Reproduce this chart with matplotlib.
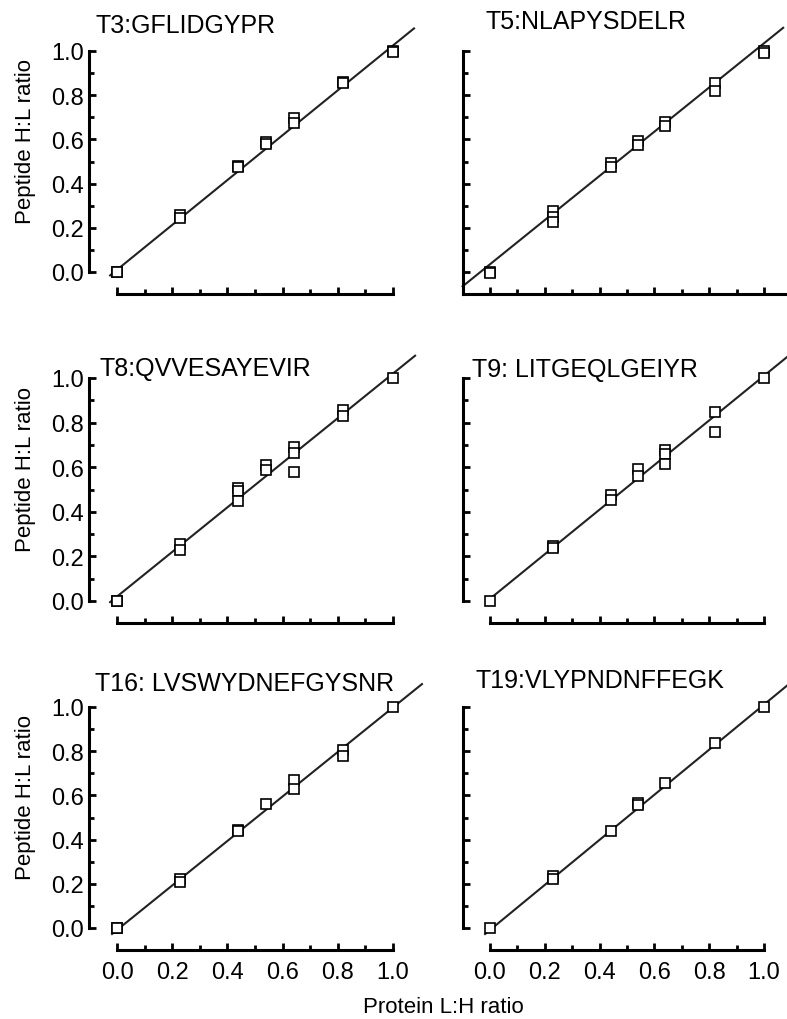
import matplotlib.pyplot as plt
from matplotlib.ticker import FormatStrFormatter

plt.rcParams['font.family'] = ['Liberation Sans', 'DejaVu Sans']

# Protein L:H mixing ratios and the measured peptide H:L ratios per peptide.
titles = ['T3:GFLIDGYPR', 'T5:NLAPYSDELR', 'T8:QVVESAYEVIR',
          'T9: LITGEQLGEIYR', 'T16: LVSWYDNEFGYSNR', 'T19:VLYPNDNFFEGK']

t3_x = [0, 0, 0.23, 0.23, 0.44, 0.44, 0.54, 0.54, 0.64, 0.64, 0.82, 0.82, 1.0, 1.0]
t3_y = [0.0, 0.0, 0.26, 0.245, 0.48, 0.475, 0.59, 0.58, 0.695, 0.675, 0.86, 0.855, 1.0, 0.995]

t5_x = [0, 0, 0.23, 0.23, 0.23, 0.44, 0.44, 0.54, 0.54, 0.64, 0.64, 0.82, 0.82, 1.0, 1.0]
t5_y = [0.0, -0.005, 0.275, 0.25, 0.225, 0.493, 0.474, 0.594, 0.575, 0.68, 0.66, 0.855, 0.82, 1.0, 0.99]

t8_x = [0, 0, 0.23, 0.23, 0.44, 0.44, 0.44, 0.54, 0.54, 0.64, 0.64, 0.64, 0.82, 0.82, 1.0]
t8_y = [0.0, 0.0, 0.257, 0.23, 0.508, 0.493, 0.447, 0.608, 0.586, 0.69, 0.664, 0.578, 0.858, 0.828, 1.0]

t9_x = [0, 0.23, 0.23, 0.44, 0.44, 0.54, 0.54, 0.64, 0.64, 0.64, 0.82, 0.82, 1.0]
t9_y = [0.0, 0.245, 0.237, 0.474, 0.452, 0.593, 0.559, 0.679, 0.658, 0.613, 0.848, 0.758, 1.0]

t16_x = [0, 0, 0.23, 0.23, 0.44, 0.44, 0.54, 0.64, 0.64, 0.82, 0.82, 1.0]
t16_y = [0.0, 0.0, 0.223, 0.208, 0.445, 0.44, 0.56, 0.67, 0.63, 0.804, 0.778, 1.0]

t19_x = [0, 0.23, 0.23, 0.44, 0.54, 0.54, 0.64, 0.82, 1.0]
t19_y = [0.0, 0.235, 0.223, 0.439, 0.564, 0.555, 0.658, 0.838, 1.0]

# Linear fits: slope, intercept and the x span of each fitted line.
fit_slope = [1.015, 1.0, 1.0, 1.0, 1.007, 1.02]
fit_intercept = [0.01, 0.035, 0.02, 0.01, -0.009, -0.009]
fit_x0 = [-0.025, -0.1, -0.025, -0.011, -0.018, -0.018]
fit_x1 = [1.076, 1.07, 1.08, 1.084, 1.105, 1.084]

xs = [t3_x, t5_x, t8_x, t9_x, t16_x, t19_x]
ys = [t3_y, t5_y, t8_y, t9_y, t16_y, t19_y]

major_ticks = [0.0, 0.2, 0.4, 0.6, 0.8, 1.0]
minor_ticks = [0.1, 0.3, 0.5, 0.7, 0.9]

W, H = 787, 1020
fig = plt.figure(figsize=(W / 100, H / 100), dpi=100)

# Panel boxes in pixels (bottom measured from the top edge).
col_left = [89.4, 462.6]
col_width = [331.2, 328.8]
row_bottom = [295.1, 624.3, 951.1]
row_height = [265.2, 267.6, 265.2]
title_pos = [(95, 33), (485, 29), (100, 376), (472, 377), (95, 691), (476, 688)]

for i in range(6):
    r, c = i // 2, i % 2
    ax = fig.add_axes([col_left[c] / W, (H - row_bottom[r]) / H,
                       col_width[c] / W, row_height[r] / H])
    ax.set_xlim(-0.1, 1.1)
    ax.set_ylim(-0.1, 1.1)

    # fitted line
    lx = [fit_x0[i], fit_x1[i]]
    ly = [fit_slope[i] * v + fit_intercept[i] for v in lx]
    ax.plot(lx, ly, color='#222222', lw=1.5, clip_on=False, zorder=2)

    # replicate measurements
    ax.plot(xs[i], ys[i], linestyle='none', marker='s', ms=7, mfc='white',
            mec='black', mew=1.2, clip_on=False, zorder=3)

    for side in ['top', 'right']:
        ax.spines[side].set_visible(False)
    for side in ['left', 'bottom']:
        ax.spines[side].set_linewidth(2.2)

    if i == 1:
        # this panel's axes meet in the corner
        ax.spines['left'].set_bounds(-0.1, 1.0)
        ax.spines['bottom'].set_bounds(-0.1, 1.1)
    else:
        ax.spines['left'].set_bounds(0, 1.0)
        ax.spines['bottom'].set_bounds(0, 1.0)

    ax.set_xticks(major_ticks)
    ax.set_xticks(minor_ticks, minor=True)
    ax.set_yticks(major_ticks)
    ax.set_yticks(minor_ticks, minor=True)
    ax.xaxis.set_major_formatter(FormatStrFormatter('%.1f'))
    ax.yaxis.set_major_formatter(FormatStrFormatter('%.1f'))
    ax.tick_params(which='major', direction='in', length=5, width=2, labelsize=17)
    ax.tick_params(which='minor', direction='in', length=3.5, width=2)
    ax.tick_params(axis='y', pad=4)
    ax.tick_params(axis='x', pad=8)

    if c == 1:
        ax.tick_params(axis='y', labelleft=False)
    else:
        ax.set_ylabel('Peptide H:L ratio', fontsize=16)
        ax.yaxis.set_label_coords(-0.16, 0.58)
    if r < 2:
        ax.tick_params(axis='x', labelbottom=False)

    tx, ty = title_pos[i]
    fig.text(tx / W, (H - ty) / H, titles[i], fontsize=18, ha='left', va='baseline')

fig.text(443 / W, (H - 1008) / H, 'Protein L:H ratio', fontsize=16, ha='center', va='center')

plt.savefig('out.png', dpi=100)
plt.close()
